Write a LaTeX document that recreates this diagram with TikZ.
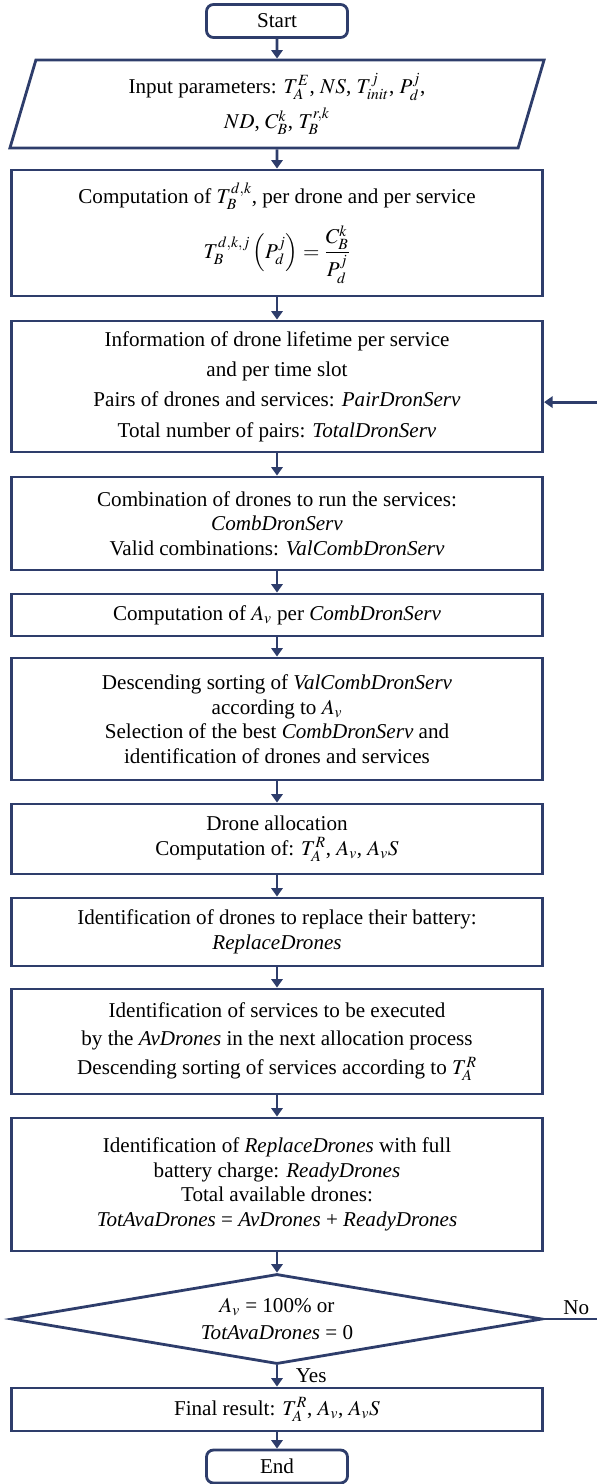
\documentclass[tikz,border=0pt]{standalone}
\usepackage{amsmath}
\usepackage{mathptmx}
\usepackage{fontspec}
\setmainfont{Liberation Serif}
\usetikzlibrary{arrows.meta,positioning,shapes.geometric}
\definecolor{flowblue}{HTML}{2E3D6B}

\begin{document}
\begin{tikzpicture}[
  x=0.025cm, y=-0.025cm,
  font=\fontsize{15}{17.5}\selectfont,
  every node/.style={draw=flowblue, line width=2pt, align=center, inner sep=2pt},
  proc/.style={rectangle, minimum width=13.28cm},
  term/.style={rectangle, rounded corners=5pt, minimum width=3.525cm, minimum height=0.825cm},
  io/.style={trapezium, trapezium left angle=69, trapezium right angle=111,
    trapezium stretches body, minimum width=13.35cm, minimum height=2.2cm},
  decision/.style={diamond, aspect=5.89, minimum width=13.26cm, minimum height=2.25cm, inner sep=0pt},
  lbl/.style={draw=none, inner sep=1pt},
  flow/.style={draw=flowblue, line width=2pt, -{Triangle[width=8pt,length=6pt]}}
]
\useasboundingbox (0,0) rectangle (597,1484);
\clip (0,0) rectangle (597,1484);

\node[term] (start) at (277,21) {Start};
\node[io] (input) at (277,104) {Input parameters: $T^{E}_{A}$, $NS$, $T^{j}_{init}$, $P^{j}_{d}$,\\[4pt]
  $ND$, $C^{k}_{B}$, $T^{r,k}_{B}$};
\node[proc, minimum height=3.15cm] (comp) at (277,233) {Computation of $T^{d,k}_{B}$, per drone and per service\\[10pt]
  $T^{d,k,j}_{B}\left(P^{j}_{d}\right) = \dfrac{C^{k}_{B}}{P^{j}_{d}}$};
\node[proc, minimum height=3.275cm] (info) at (277,386.5) {Information of drone lifetime per service\\[4pt]
  and per time slot\\[4pt]
  Pairs of drones and services: \textit{PairDronServ}\\[4pt]
  Total number of pairs: \textit{TotalDronServ}};
\node[proc, minimum height=2.325cm] (comb) at (277,523.5) {Combination of drones to run the services:\\
  \textit{CombDronServ}\\
  Valid combinations: \textit{ValCombDronServ}};
\node[proc, minimum height=1.05cm] (av) at (277,615) {Computation of $A_{v}$ per \textit{CombDronServ}};
\node[proc, minimum height=3.05cm] (desc) at (277,719) {Descending sorting of \textit{ValCombDronServ}\\
  according to $A_{v}$\\
  Selection of the best \textit{CombDronServ} and\\
  identification of drones and services};
\node[proc, minimum height=1.75cm] (alloc) at (277,839) {Drone allocation\\
  Computation of: $T^{R}_{A}$, $A_{v}$, $A_{v}S$};
\node[proc, minimum height=1.7cm] (repl) at (277,932) {Identification of drones to replace their battery:\\
  \textit{ReplaceDrones}};
\node[proc, minimum height=2.625cm] (serv) at (277,1041.5) {Identification of services to be executed\\[3pt]
  by the \textit{AvDrones} in the next allocation process\\[3pt]
  Descending sorting of services according to $T^{R}_{A}$};
\node[proc, minimum height=3.325cm] (ready) at (277,1184.5) {Identification of \textit{ReplaceDrones} with full\\
  battery charge: \textit{ReadyDrones}\\
  Total available drones:\\
  \textit{TotAvaDrones} = \textit{AvDrones} + \textit{ReadyDrones}};
\node[decision] (dec) at (277,1319) {$A_{v}$ = 100\% or\\[2pt]
  \textit{TotAvaDrones} = 0};
\node[proc, minimum height=1.075cm] (final) at (277,1409.5) {Final result: $T^{R}_{A}$, $A_{v}$, $A_{v}S$};
\node[term] (end) at (277,1466.5) {End};

\draw[flow] (start.south) -- (input.north);
\draw[flow] (input.south) -- (comp.north);
\draw[flow] (comp.south) -- (info.north);
\draw[flow] (info.south) -- (comb.north);
\draw[flow] (comb.south) -- (av.north);
\draw[flow] (av.south) -- (desc.north);
\draw[flow] (desc.south) -- (alloc.north);
\draw[flow] (alloc.south) -- (repl.north);
\draw[flow] (repl.south) -- (serv.north);
\draw[flow] (serv.south) -- (ready.north);
\draw[flow] (ready.south) -- (dec.north);
\draw[flow] (dec.south) -- node[lbl, right=0.4cm] {Yes} (final.north);
\draw[flow] (final.south) -- (end.north);

% loop back when the allocation is not finished
\node[lbl, above right=1pt and 12pt of dec.east] (no) {No};
\draw[flow] (dec.east) -- ++(80,0) |- ([yshift=-0.39cm]info.east);

\end{tikzpicture}
\end{document}
